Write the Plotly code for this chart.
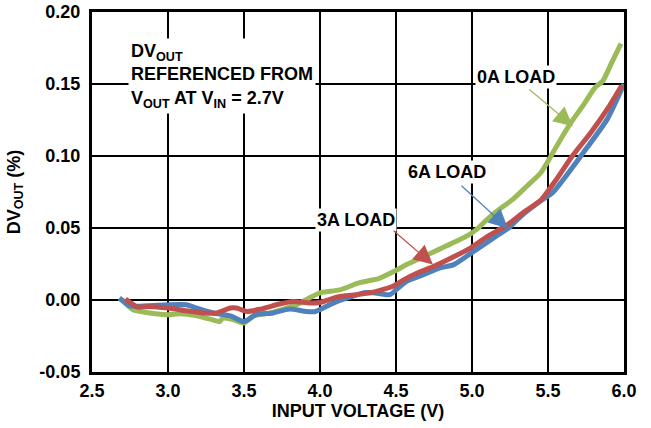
import plotly.graph_objects as go

# ── Data ────────────────────────────────────────────────────────────────────
VIN_0A = [2.70, 2.77, 2.88, 3.00, 3.08, 3.19, 3.30, 3.34, 3.36, 3.43, 3.50,
          3.56, 3.67, 3.78, 3.87, 3.93, 4.00, 4.13, 4.26, 4.39, 4.49, 4.57,
          4.68, 4.79, 4.90, 4.99, 5.03, 5.10, 5.18, 5.27, 5.36, 5.45, 5.52,
          5.58, 5.65, 5.73, 5.81, 5.86, 5.92, 5.98]
DV_0A = [0.000, -0.0068, -0.009, -0.0102, -0.0095, -0.011, -0.014, -0.015,
         -0.0125, -0.0137, -0.016, -0.011, -0.009, -0.0056, -0.002, 0.0014,
         0.005, 0.007, 0.012, 0.015, 0.020, 0.0246, 0.030, 0.0355, 0.041,
         0.046, 0.049, 0.056, 0.063, 0.070, 0.079, 0.088, 0.100, 0.111,
         0.123, 0.135, 0.1476, 0.152, 0.165, 0.178]

VIN_3A = [2.72, 2.80, 2.88, 3.00, 3.12, 3.23, 3.32, 3.41, 3.45, 3.52, 3.61,
          3.74, 3.82, 3.93, 4.00, 4.11, 4.24, 4.33, 4.39, 4.48, 4.55, 4.64,
          4.75, 4.86, 4.98, 5.10, 5.23, 5.34, 5.45, 5.55, 5.66, 5.78, 5.89,
          5.985]
DV_3A = [0.0007, -0.0049, -0.0045, -0.0056, -0.0075, -0.009, -0.009, -0.0056,
         -0.0056, -0.008, -0.0063, -0.0026, -0.001, -0.002, -0.0017, 0.002,
         0.0037, 0.005, 0.0065, 0.0095, 0.014, 0.0188, 0.0234, 0.029, 0.0355,
         0.044, 0.052, 0.061, 0.069, 0.083, 0.100, 0.116, 0.1325, 0.149]

VIN_6A = [2.68, 2.75, 2.86, 3.00, 3.12, 3.19, 3.30, 3.41, 3.50, 3.58, 3.69,
          3.80, 3.91, 3.97, 4.09, 4.18, 4.29, 4.35, 4.46, 4.50, 4.57, 4.68,
          4.79, 4.88, 4.98, 5.14, 5.24, 5.32, 5.45, 5.53, 5.73, 5.89, 6.00]
DV_6A = [0.0014, -0.004, -0.004, -0.0033, -0.0033, -0.0056, -0.009, -0.011,
         -0.015, -0.0102, -0.009, -0.0063, -0.008, -0.008, -0.002, 0.0014,
         0.005, 0.005, 0.0037, 0.007, 0.013, 0.0176, 0.0223, 0.0246, 0.0315,
         0.043, 0.050, 0.058, 0.0687, 0.0745, 0.102, 0.1256, 0.150]

X_TICKS = [2.5, 3.0, 3.5, 4.0, 4.5, 5.0, 5.5, 6.0]
Y_TICKS = [-0.05, 0.00, 0.05, 0.10, 0.15, 0.20]

# ── Style ───────────────────────────────────────────────────────────────────
GREEN = "#9bbb59"
RED = "#c0504d"
BLUE = "#4f81bd"
FONT = "Liberation Sans, Arial, sans-serif"
FS = 18

fig = go.Figure()

for xs, ys, color, name in [
    (VIN_0A, DV_0A, GREEN, "0A LOAD"),
    (VIN_6A, DV_6A, BLUE, "6A LOAD"),
    (VIN_3A, DV_3A, RED, "3A LOAD"),
]:
    fig.add_trace(go.Scatter(
        x=xs, y=ys, mode="lines", name=name,
        line=dict(color=color, width=5, shape="spline", smoothing=0.6),
        showlegend=False,
    ))

axis_common = dict(
    showgrid=True, gridcolor="black", gridwidth=2,
    showline=True, linecolor="black", linewidth=3, mirror=True,
    zeroline=False, ticks="", automargin=False,
    tickfont=dict(family=FONT, size=FS, color="black", weight="bold"),
)

fig.update_layout(
    width=651, height=428,
    paper_bgcolor="white", plot_bgcolor="white",
    margin=dict(l=92, r=27, t=12, b=56),
    font=dict(family=FONT, color="black"),
    xaxis=dict(
        range=[2.5, 6.0], tickvals=X_TICKS,
        ticktext=[f"{v:.1f}" for v in X_TICKS],
        title=dict(text="INPUT VOLTAGE (V)", standoff=2,
                   font=dict(family=FONT, size=FS, weight="bold")),
        **axis_common,
    ),
    yaxis=dict(
        range=[-0.05, 0.20], tickvals=Y_TICKS,
        ticktext=[f"{v:.2f}" for v in Y_TICKS],
        ticklabelstandoff=5,
        title=dict(text="DV<sub>OUT</sub> (%)", standoff=15,
                   font=dict(family=FONT, size=FS, weight="bold")),
        **axis_common,
    ),
)

# Description block
fig.add_annotation(
    x=2.74, y=0.182, xref="x", yref="y", xanchor="left", yanchor="top",
    text="DV<sub>OUT</sub><br>REFERENCED FROM<br>V<sub>OUT</sub> AT V<sub>IN</sub> = 2.7V",
    showarrow=False, align="left", bgcolor="white", borderpad=2,
    font=dict(family=FONT, size=FS, color="black", weight="bold"),
)

# Load labels + arrows
labels = [
    ("0A LOAD", 5.29, 0.155, GREEN, (5.368, 0.1471), (5.664, 0.1207)),
    ("6A LOAD", 4.836, 0.0887, BLUE, (4.921, 0.0803), (5.237, 0.0497)),
    ("3A LOAD", 4.237, 0.0559, RED, (4.474, 0.049), (4.743, 0.0246)),
]
for text, tx, ty, color, tail, tip in labels:
    fig.add_annotation(
        x=tx, y=ty, xref="x", yref="y", text=text, showarrow=False,
        bgcolor="white", borderpad=1,
        font=dict(family=FONT, size=FS, color="black", weight="bold"),
    )
    fig.add_annotation(
        x=tip[0], y=tip[1], ax=tail[0], ay=tail[1],
        xref="x", yref="y", axref="x", ayref="y",
        text="", showarrow=True, arrowhead=2, arrowsize=3.2,
        arrowwidth=1.2, arrowcolor=color, standoff=0,
    )

# the page body has a default 8px margin; drop it so the figure sits at 0,0
fig.write_html(
    "out.html",
    config={"displayModeBar": False},
    post_script="document.body.style.margin = '0';",
)
